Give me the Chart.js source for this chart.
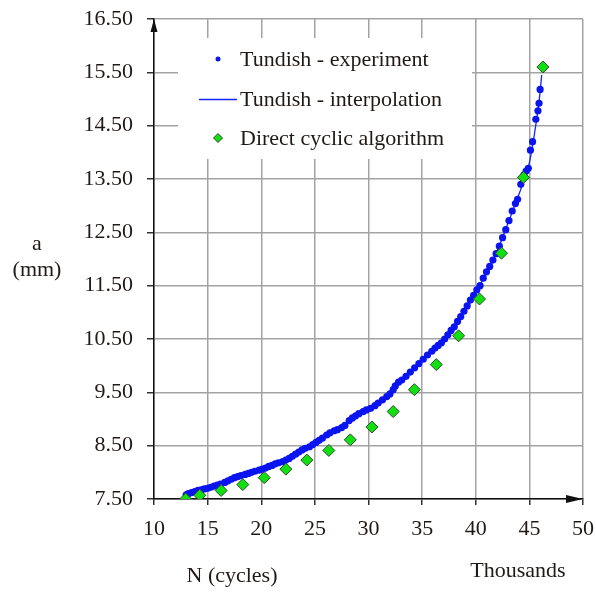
<!DOCTYPE html>
<html>
<head>
<meta charset="utf-8">
<script src="https://cdn.jsdelivr.net/npm/chart.js@4"></script>
<style>
  html, body { margin: 0; padding: 0; background: #fff; }
  #chart { display: block; }
</style>
</head>
<body>
<canvas id="chart" width="596" height="592"></canvas>
<script>
// axis ticks
const xTicks = [10, 15, 20, 25, 30, 35, 40, 45, 50];
const yTicks = [7.5, 8.5, 9.5, 10.5, 11.5, 12.5, 13.5, 14.5, 15.5, 16.5];

// Tundish - experiment (N in thousands, a in mm)
const expN = [13.0, 13.2, 13.5, 13.8, 14.1, 14.4, 14.7, 15.0, 15.3, 15.6, 15.9, 16.2, 16.6, 16.9, 17.2, 17.5,
  17.8, 18.1, 18.5, 18.8, 19.1, 19.4, 19.8, 20.1, 20.4, 20.7, 21.0, 21.3, 21.6, 22.0, 22.3, 22.6, 22.9, 23.2,
  23.5, 23.8, 24.1, 24.5, 24.8, 25.1, 25.4, 25.7, 26.1, 26.4, 26.8, 27.1, 27.5, 27.8, 28.2, 28.5, 28.8, 29.1,
  29.5, 29.8, 30.2, 30.6, 30.9, 31.3, 31.7, 32.0, 32.3, 32.5, 32.8, 33.1, 33.5, 33.9, 34.3, 34.7, 35.1, 35.5,
  35.9, 36.2, 36.5, 36.8, 37.1, 37.4, 37.7, 38.0, 38.3, 38.6, 38.9, 39.2, 39.5, 39.8, 40.1, 40.4, 40.7, 41.0,
  41.3, 41.6, 41.9, 42.2, 42.5, 42.8, 43.1, 43.4, 43.7, 43.9, 44.2, 44.5, 44.7, 44.9, 45.1, 45.3, 45.6, 45.8,
  45.9, 46.0];
const expA = [7.58, 7.60, 7.62, 7.64, 7.66, 7.67, 7.69, 7.70, 7.72, 7.74, 7.76, 7.78, 7.81, 7.84, 7.87, 7.90,
  7.92, 7.94, 7.96, 7.98, 8.00, 8.02, 8.04, 8.06, 8.08, 8.11, 8.13, 8.16, 8.18, 8.20, 8.23, 8.26, 8.30, 8.34,
  8.38, 8.42, 8.45, 8.48, 8.52, 8.56, 8.60, 8.64, 8.70, 8.74, 8.78, 8.80, 8.84, 8.88, 8.97, 9.02, 9.06, 9.10,
  9.14, 9.17, 9.20, 9.25, 9.30, 9.36, 9.42, 9.47, 9.55, 9.62, 9.69, 9.73, 9.80, 9.88, 9.96, 10.04, 10.12, 10.20,
  10.27, 10.33, 10.38, 10.43, 10.50, 10.58, 10.66, 10.73, 10.83, 10.92, 11.02, 11.12, 11.23, 11.32, 11.42, 11.50,
  11.64, 11.76, 11.86, 11.98, 12.10, 12.24, 12.40, 12.55, 12.72, 12.90, 13.04, 13.12, 13.40, 13.58, 13.65, 13.70,
  14.04, 14.20, 14.62, 14.78, 14.92, 15.18];

// Tundish - interpolation
const interpN = [13.0, 15.0, 17.0, 19.0, 21.0, 23.0, 25.0, 27.0, 29.0, 31.0, 33.0, 35.0, 37.0, 39.0, 40.5,
  42.0, 43.0, 44.0, 44.9, 45.4, 45.9, 46.15];
const interpA = [7.58, 7.70, 7.85, 8.00, 8.13, 8.32, 8.55, 8.80, 9.08, 9.32, 9.72, 10.10, 10.48, 11.05, 11.55,
  12.15, 12.67, 13.20, 13.72, 14.25, 14.95, 15.45];

// Direct cyclic algorithm
const algN = [12.95, 14.27, 16.26, 18.28, 20.28, 22.30, 24.25, 26.30, 28.30, 30.32, 32.30, 34.28, 36.32,
  38.40, 40.35, 42.40, 44.45, 46.26];
const algA = [7.50, 7.57, 7.66, 7.77, 7.90, 8.06, 8.23, 8.41, 8.61, 8.85, 9.14, 9.55, 10.02,
  10.56, 11.25, 12.11, 13.53, 15.60];

const seriesLabels = ['Tundish - experiment', 'Tundish - interpolation', 'Direct cyclic algorithm'];
const xTitle = 'N (cycles)';
const xUnit = 'Thousands';
const yTitle = ['a', '(mm)'];

const COLORS = {
  text: '#1f1a17',
  grid: '#a3a3a3',
  axis: '#111',
  blue: '#0a14f0',
  line: '#1525ff',
  green: '#10e010',
  greenEdge: '#2f4a2f',
};
const FONT = '"Liberation Serif", "Times New Roman", serif';

const toPoints = (xs, ys) => xs.map((x, i) => ({ x, y: ys[i] }));

// arrows, axis titles and the boxed legend inside the plot
const decorations = {
  id: 'decorations',
  afterDatasetsDraw(chart) {
    const { ctx, chartArea: a } = chart;
    ctx.save();

    // legend box
    ctx.fillStyle = '#fff';
    ctx.fillRect(178, 38, 294, 121);
    ctx.font = `22px ${FONT}`;
    ctx.fillStyle = COLORS.text;
    ctx.textBaseline = 'middle';
    ctx.textAlign = 'left';
    const rows = [59, 99, 138];
    seriesLabels.forEach((t, i) => ctx.fillText(t, 240, rows[i] + 1));

    ctx.fillStyle = COLORS.blue;
    ctx.beginPath();
    ctx.arc(218, rows[0], 2.5, 0, Math.PI * 2);
    ctx.fill();

    ctx.strokeStyle = COLORS.line;
    ctx.lineWidth = 1.5;
    ctx.beginPath();
    ctx.moveTo(199, rows[1] + 0.5);
    ctx.lineTo(237, rows[1] + 0.5);
    ctx.stroke();

    ctx.fillStyle = COLORS.green;
    ctx.strokeStyle = COLORS.greenEdge;
    ctx.lineWidth = 1;
    ctx.beginPath();
    ctx.moveTo(218, rows[2] - 4.5);
    ctx.lineTo(222.5, rows[2]);
    ctx.lineTo(218, rows[2] + 4.5);
    ctx.lineTo(213.5, rows[2]);
    ctx.closePath();
    ctx.fill();
    ctx.stroke();

    // arrow heads
    ctx.fillStyle = COLORS.axis;
    ctx.beginPath();
    ctx.moveTo(a.left, a.top);
    ctx.lineTo(a.left - 3.5, a.top + 13);
    ctx.lineTo(a.left + 3.5, a.top + 13);
    ctx.closePath();
    ctx.fill();
    ctx.beginPath();
    ctx.moveTo(a.right, a.bottom);
    ctx.lineTo(a.right - 17, a.bottom - 4);
    ctx.lineTo(a.right - 17, a.bottom + 4);
    ctx.closePath();
    ctx.fill();

    // axis titles
    ctx.fillStyle = COLORS.text;
    ctx.textAlign = 'center';
    ctx.fillText(xTitle, 232, 576);
    ctx.fillText(xUnit, 518, 571);
    ctx.fillText(yTitle[0], 37, 244);
    ctx.fillText(yTitle[1], 37, 270);
    ctx.restore();
  },
};

new Chart(document.getElementById('chart'), {
  type: 'scatter',
  data: {
    datasets: [
      {
        label: seriesLabels[2],
        data: toPoints(algN, algA),
        pointStyle: 'rectRot',
        pointRadius: 6,
        backgroundColor: COLORS.green,
        borderColor: COLORS.greenEdge,
        borderWidth: 1,
        showLine: false,
      },
      {
        label: seriesLabels[0],
        data: toPoints(expN, expA),
        pointStyle: 'circle',
        pointRadius: 3.6,
        backgroundColor: COLORS.blue,
        borderWidth: 0,
        showLine: false,
      },
      {
        label: seriesLabels[1],
        data: toPoints(interpN, interpA),
        showLine: true,
        borderColor: COLORS.line,
        borderWidth: 1.3,
        pointRadius: 0,
        tension: 0.3,
      },
    ],
  },
  options: {
    responsive: false,
    animation: false,
    devicePixelRatio: 1,
    layout: { padding: { top: 19, right: 13, left: 0, bottom: 0 } },
    plugins: {
      legend: { display: false },
      tooltip: { enabled: false },
    },
    scales: {
      x: {
        type: 'linear',
        min: 10,
        max: 50,
        afterBuildTicks: s => { s.ticks = xTicks.map(v => ({ value: v })); },
        afterFit: s => { s.height = 93; s.paddingLeft = 0; s.paddingRight = 0; },
        ticks: {
          color: COLORS.text,
          font: { family: FONT, size: 22 },
          padding: 11,
          maxRotation: 0,
          callback: v => String(v),
        },
        grid: { color: COLORS.grid, lineWidth: 1.5, tickLength: 6, tickColor: '#333' },
        border: { color: COLORS.axis, width: 1.5 },
      },
      y: {
        type: 'linear',
        min: 7.5,
        max: 16.5,
        afterBuildTicks: s => { s.ticks = yTicks.map(v => ({ value: v })); },
        afterFit: s => { s.width = 154; s.paddingTop = 0; s.paddingBottom = 0; },
        ticks: {
          color: COLORS.text,
          font: { family: FONT, size: 22 },
          padding: 14,
          callback: v => Number(v).toFixed(2),
        },
        grid: { color: COLORS.grid, lineWidth: 1.5, tickLength: 7, tickColor: '#333' },
        border: { color: COLORS.axis, width: 1.5 },
      },
    },
  },
  plugins: [decorations],
});
</script>
</body>
</html>
